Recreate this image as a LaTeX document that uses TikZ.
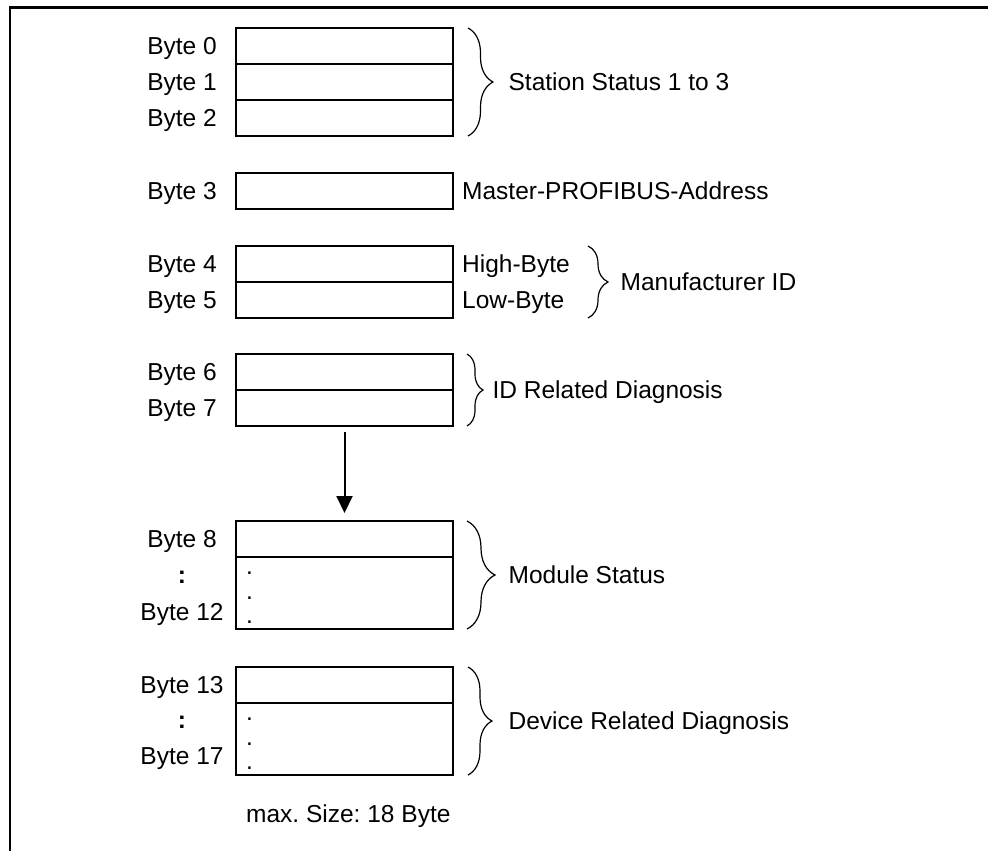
\documentclass[tikz,border=0pt]{standalone}
\usepackage{fontspec}
\setmainfont{Liberation Sans}
\usetikzlibrary{positioning,calc,arrows.meta,decorations.pathreplacing}
\frenchspacing

\begin{document}
\begin{tikzpicture}[x=1pt,y=-1pt,node distance=0pt]
    \tikzstyle{cell} = [rectangle, draw, line width=1.3pt, minimum width=217pt, minimum height=36pt, inner sep=0pt, outer sep=0pt]
    \tikzstyle{rest} = [cell, minimum height=72pt]
    \tikzstyle{txt} = [font=\fontsize{24.5}{28}\selectfont, inner sep=0pt, text height=17.4pt, text depth=0pt]
    \tikzstyle{dotlbl} = [font=\fontsize{24.5}{28}\selectfont, inner sep=0pt, anchor=base west]
    \tikzstyle{brace} = [decorate, line width=1.2pt]
    \tikzstyle{arrow} = [line width=2pt, -{Triangle[width=16pt,length=17pt]}]

    \useasboundingbox (0,0) rectangle (988,851);
    \draw [line width=2.2pt] (10,853) -- (10,7.5) -- (990,7.5);
    \coordinate (lblx) at (182,0);

    % byte cells
    \node [cell] (b0) at (344.5,46) {};
    \node [cell, below=of b0] (b1) {};
    \node [cell, below=of b1] (b2) {};
    \node [cell] (b3) at (344.5,191) {};
    \node [cell] (b4) at (344.5,264) {};
    \node [cell, below=of b4] (b5) {};
    \node [cell] (b6) at (344.5,372) {};
    \node [cell, below=of b6] (b7) {};
    \node [cell] (b8) at (344.5,539) {};
    \node [rest, below=of b8] (b9) {};
    \node [cell] (b13) at (344.5,685) {};
    \node [rest, below=of b13] (b14) {};

    % byte labels
    \foreach \n in {0,...,8,13}
        \node [txt] (l\n) at (b\n -| lblx) {Byte \n};
    \node [txt] (c8) at ($(b8.north -| lblx)+(0,54)$) {\textbf{:}};
    \node [txt] (l12) at ($(b8.north -| lblx)+(0,91)$) {Byte 12};
    \node [txt] (c13) at ($(b13.north -| lblx)+(0,53)$) {\textbf{:}};
    \node [txt] (l17) at ($(b13.north -| lblx)+(0,89)$) {Byte 17};

    % dots in the open cells
    \foreach \c in {b9,b14}
        \foreach \d in {17,42,66}
            \node [dotlbl] at ($(\c.north west)+(10,\d)$) {.};

    % braces and texts
    \draw [brace, decoration={brace, amplitude=25pt}] ([xshift=15pt]b0.north east) -- ([xshift=15pt]b2.south east)
        node [txt, midway, anchor=west, xshift=40pt] (st) {Station Status 1 to 3};
    \node [txt, right=9pt of b3] (ma) {Master-PROFIBUS-Address};
    \node [txt, right=9pt of b4] (hb) {High-Byte};
    \node [txt, right=9pt of b5] (lb) {Low-Byte};
    \draw [brace, decoration={brace, amplitude=20pt}] ([xshift=135pt]b4.north east) -- ([xshift=135pt]b5.south east)
        node [txt, midway, anchor=west, xshift=32pt] (mid) {Manufacturer ID};
    \draw [brace, decoration={brace, amplitude=16pt}] ([xshift=14pt]b6.north east) -- ([xshift=14pt]b7.south east)
        node [txt, midway, anchor=west, xshift=25pt] (idd) {ID Related Diagnosis};
    \draw [brace, decoration={brace, amplitude=28pt}] ([xshift=14pt]b8.north east) -- ([xshift=14pt]b9.south east)
        node [txt, midway, anchor=west, xshift=41pt] (ms) {Module Status};
    \draw [brace, decoration={brace, amplitude=24pt}] ([xshift=15pt]b13.north east) -- ([xshift=15pt]b14.south east)
        node [txt, midway, anchor=west, xshift=40pt] (drd) {Device Related Diagnosis};

    \draw [arrow, shorten <=6pt, shorten >=8pt] (b7.south) -- (b8.north);

    \node [txt, anchor=west] (max) at ($(b14.south west)+(10,39)$) {max. Size: 18 Byte};
\end{tikzpicture}
\end{document}
